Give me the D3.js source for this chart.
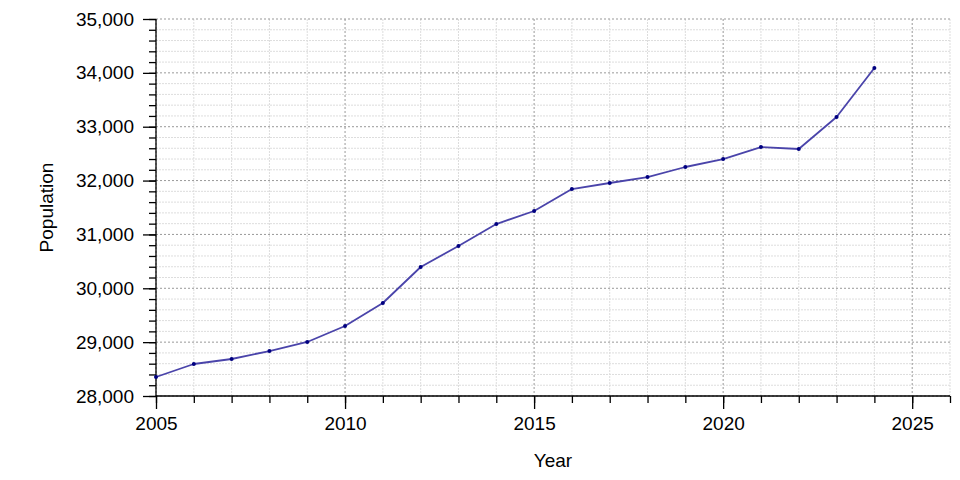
<!DOCTYPE html>
<html><head><meta charset="utf-8">
<script src="https://cdn.jsdelivr.net/npm/d3@7"></script>
<style>body{margin:0;background:#fff}svg{display:block}text{font-family:"Liberation Sans",Arial,sans-serif}</style>
</head><body>
<svg id="c" width="960" height="480"></svg>
<script>
const years = [2005,2006,2007,2008,2009,2010,2011,2012,2013,2014,2015,2016,2017,2018,2019,2020,2021,2022,2023,2024];
const population = [28353,28594,28687,28835,29003,29300,29727,30395,30785,31193,31435,31843,31955,32066,32252,32400,32623,32586,33180,34090];
const xMajorTicks = [2005,2010,2015,2020,2025];
const yMajorTicks = [28000,29000,30000,31000,32000,33000,34000,35000];
const xTitle = "Year";
const yTitle = "Population";

const svg = d3.select("#c");
const L = 156, R = 950, T = 19, B = 396;
const FS = 19;
const x = d3.scaleLinear().domain([2005, 2026]).range([L, R]);
const y = d3.scaleLinear().domain([28000, 35000]).range([B, T]);

const xMinor = d3.range(2005, 2027, 1);
const yMinor = d3.range(28000, 35001, 200);

// minor grid
const g = svg.append("g");
g.selectAll(".vx").data(xMinor.filter(v => !xMajorTicks.includes(v))).enter().append("line")
  .attr("x1", d => x(d)).attr("x2", d => x(d)).attr("y1", T).attr("y2", B)
  .attr("stroke", "#dddddd").attr("stroke-width", 1).attr("stroke-dasharray", "2,1");
g.selectAll(".hy").data(yMinor.filter(v => !yMajorTicks.includes(v))).enter().append("line")
  .attr("x1", L).attr("x2", R).attr("y1", d => y(d)).attr("y2", d => y(d))
  .attr("stroke", "#dddddd").attr("stroke-width", 1).attr("stroke-dasharray", "2,1");
// major grid
g.selectAll(".vX").data(xMajorTicks).enter().append("line")
  .attr("x1", d => x(d)).attr("x2", d => x(d)).attr("y1", T).attr("y2", B)
  .attr("stroke", "#999999").attr("stroke-width", 1).attr("stroke-dasharray", "2,2");
g.selectAll(".hY").data(yMajorTicks).enter().append("line")
  .attr("x1", L).attr("x2", R).attr("y1", d => y(d)).attr("y2", d => y(d))
  .attr("stroke", "#999999").attr("stroke-width", 1).attr("stroke-dasharray", "2,2");

// axes
const fmt = d3.format(",");
const xAxisMinor = d3.axisBottom(x).tickValues(xMinor).tickSize(7).tickFormat("");
const xAxis = d3.axisBottom(x).tickValues(xMajorTicks).tickSize(13).tickFormat(d3.format("d")).tickPadding(8);
const yAxisMinor = d3.axisLeft(y).tickValues(yMinor).tickSize(7).tickFormat("");
const yAxis = d3.axisLeft(y).tickValues(yMajorTicks).tickSize(13).tickFormat(fmt).tickPadding(9);

function style(sel){
  sel.select(".domain").remove();
  sel.selectAll("line").attr("stroke", "#000").attr("stroke-width", 1.3);
  sel.selectAll("text").attr("font-size", FS).attr("fill", "#000").attr("font-family", "Liberation Sans, Arial, sans-serif");
}
svg.append("g").attr("transform", `translate(0,${B})`).call(xAxisMinor).call(style);
svg.append("g").attr("transform", `translate(0,${B})`).call(xAxis).call(style);
svg.append("g").attr("transform", `translate(${L},0)`).call(yAxisMinor).call(style);
svg.append("g").attr("transform", `translate(${L},0)`).call(yAxis).call(style);
svg.append("line").attr("x1", L).attr("x2", R).attr("y1", B).attr("y2", B).attr("stroke", "#000").attr("stroke-width", 1.3);
svg.append("line").attr("x1", L).attr("x2", L).attr("y1", T).attr("y2", B).attr("stroke", "#000").attr("stroke-width", 1.3);

// titles
svg.append("text").attr("x", (L + R) / 2).attr("y", 467).attr("text-anchor", "middle")
  .attr("font-size", FS).text(xTitle);
svg.append("text").attr("transform", `translate(53,${(T + B) / 2}) rotate(-90)`).attr("text-anchor", "middle")
  .attr("font-size", FS).text(yTitle);

// line
const line = d3.line().x((d, i) => x(years[i])).y(d => y(d));
svg.append("path").datum(population).attr("d", line).attr("fill", "none")
  .attr("stroke", "#4a44aa").attr("stroke-width", 1.8).attr("stroke-linejoin", "round");
svg.selectAll(".pt").data(population).enter().append("circle")
  .attr("cx", (d, i) => x(years[i])).attr("cy", d => y(d)).attr("r", 2)
  .attr("fill", "#000080");
</script>
</body></html>
